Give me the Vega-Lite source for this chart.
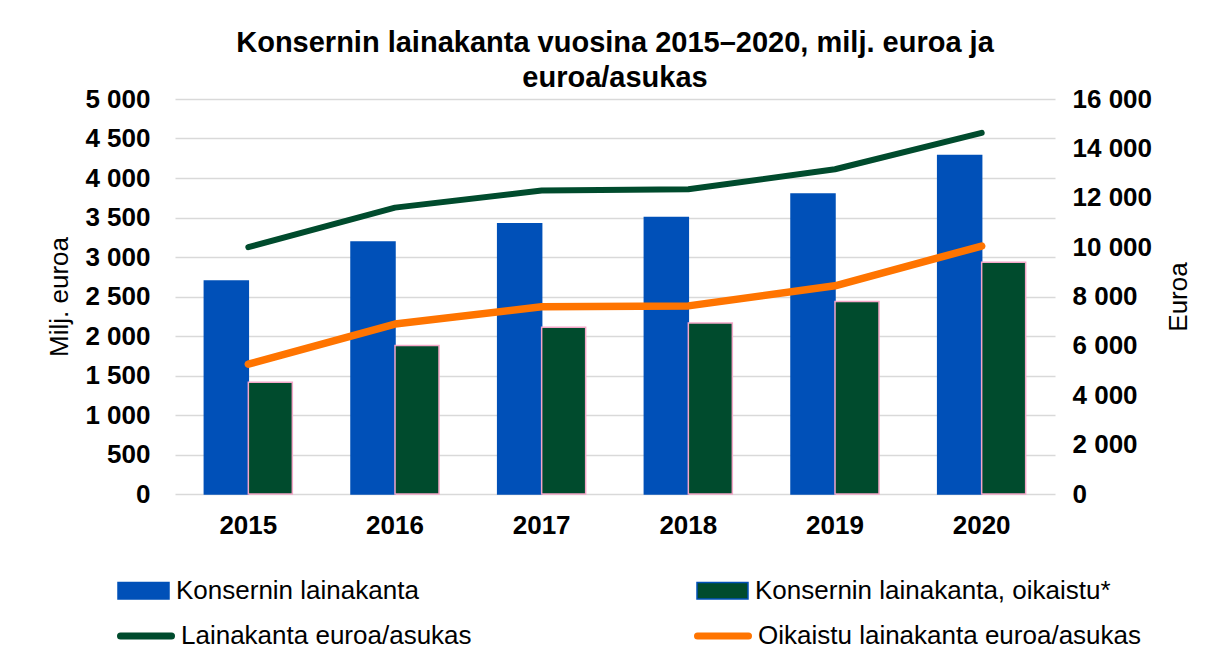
{
  "$schema": "https://vega.github.io/schema/vega-lite/v6.json",
  "width": 880,
  "height": 395,
  "autosize": {"type": "none"},
  "padding": {"left": 175, "top": 99, "right": 154, "bottom": 156},
  "background": "white",
  "config": {"font": "Liberation Sans", "view": {"stroke": null}},
  "title": {
    "text": ["Konsernin lainakanta vuosina 2015–2020, milj. euroa ja", "euroa/asukas"],
    "fontSize": 29, "fontWeight": "bold", "font": "Liberation Sans", "color": "#000000",
    "lineHeight": 35, "offset": -7, "anchor": "middle"
  },
  "datasets": {
    "bars": [
      {"year": "2015", "series": "Konsernin lainakanta", "value": 2695},
      {"year": "2015", "series": "Konsernin lainakanta, oikaistu*", "value": 1415},
      {"year": "2016", "series": "Konsernin lainakanta", "value": 3190},
      {"year": "2016", "series": "Konsernin lainakanta, oikaistu*", "value": 1880},
      {"year": "2017", "series": "Konsernin lainakanta", "value": 3420},
      {"year": "2017", "series": "Konsernin lainakanta, oikaistu*", "value": 2110},
      {"year": "2018", "series": "Konsernin lainakanta", "value": 3500},
      {"year": "2018", "series": "Konsernin lainakanta, oikaistu*", "value": 2165},
      {"year": "2019", "series": "Konsernin lainakanta", "value": 3797},
      {"year": "2019", "series": "Konsernin lainakanta, oikaistu*", "value": 2438},
      {"year": "2020", "series": "Konsernin lainakanta", "value": 4285},
      {"year": "2020", "series": "Konsernin lainakanta, oikaistu*", "value": 2935}
    ],
    "lines": [
      {"year": "2015", "series": "Lainakanta euroa/asukas", "value": 10000},
      {"year": "2016", "series": "Lainakanta euroa/asukas", "value": 11600},
      {"year": "2017", "series": "Lainakanta euroa/asukas", "value": 12290},
      {"year": "2018", "series": "Lainakanta euroa/asukas", "value": 12345},
      {"year": "2019", "series": "Lainakanta euroa/asukas", "value": 13155},
      {"year": "2020", "series": "Lainakanta euroa/asukas", "value": 14630},
      {"year": "2015", "series": "Oikaistu lainakanta euroa/asukas", "value": 5260},
      {"year": "2016", "series": "Oikaistu lainakanta euroa/asukas", "value": 6885},
      {"year": "2017", "series": "Oikaistu lainakanta euroa/asukas", "value": 7585},
      {"year": "2018", "series": "Oikaistu lainakanta euroa/asukas", "value": 7620},
      {"year": "2019", "series": "Oikaistu lainakanta euroa/asukas", "value": 8435},
      {"year": "2020", "series": "Oikaistu lainakanta euroa/asukas", "value": 10045}
    ]
  },
  "layer": [
    {
      "data": {"name": "bars"},
      "mark": {"type": "bar", "strokeWidth": 1.5},
      "encoding": {
        "x": {
          "field": "year", "type": "nominal",
          "scale": {"paddingInner": 0.4, "paddingOuter": 0.2},
          "axis": {
            "title": null, "labelAngle": 0, "labelFontSize": 26, "labelFontWeight": "bold",
            "labelColor": "#000000", "ticks": false, "domain": false, "labelPadding": 18
          }
        },
        "xOffset": {
          "field": "series", "type": "nominal",
          "scale": {"domain": ["Konsernin lainakanta", "Konsernin lainakanta, oikaistu*"], "paddingInner": 0, "paddingOuter": 0}
        },
        "y": {
          "field": "value", "type": "quantitative",
          "scale": {"domain": [0, 5000]},
          "axis": {
            "values": [0, 500, 1000, 1500, 2000, 2500, 3000, 3500, 4000, 4500, 5000],
            "labelExpr": "replace(format(datum.value, ','), ',', ' ')",
            "labelFontSize": 26, "labelFontWeight": "bold", "labelColor": "#000000",
            "ticks": false, "domain": false, "labelPadding": 25,
            "gridColor": "#D9D9D9", "gridWidth": 1.5,
            "title": "Milj. euroa", "titleFontSize": 26, "titleFontWeight": "normal",
            "titleColor": "#000000", "titlePadding": 12
          }
        },
        "fill": {
          "field": "series", "type": "nominal",
          "scale": {"domain": ["Konsernin lainakanta", "Konsernin lainakanta, oikaistu*"], "range": ["#0050B8", "#004B2D"]},
          "legend": {
            "title": null, "orient": "none", "legendX": -58, "legendY": 465,
            "direction": "horizontal", "columns": 2, "columnPadding": 275,
            "labelFontSize": 26, "labelColor": "#000000", "labelLimit": 700, "labelOffset": 6,
            "symbolType": "M-1,-0.32H1V0.32H-1Z", "symbolSize": 2601,
            "encode": {"symbols": {"update": {
              "stroke": {"signal": "datum.value === 'Konsernin lainakanta, oikaistu*' ? '#F4A6C8' : '#0050B8'"},
              "strokeWidth": {"value": 1.5},
              "strokeOpacity": {"value": 1}
            }}}
          }
        },
        "stroke": {
          "condition": {"test": "datum.series === 'Konsernin lainakanta, oikaistu*'", "value": "#F4A6C8"},
          "value": "#0050B8"
        }
      }
    },
    {
      "data": {"name": "lines"},
      "mark": {"type": "line", "strokeCap": "round", "strokeJoin": "round"},
      "encoding": {
        "x": {"field": "year", "type": "nominal"},
        "y": {
          "field": "value", "type": "quantitative",
          "scale": {"domain": [0, 16000]},
          "axis": {
            "orient": "right",
            "values": [0, 2000, 4000, 6000, 8000, 10000, 12000, 14000, 16000],
            "labelExpr": "replace(format(datum.value, ','), ',', ' ')",
            "labelFontSize": 26, "labelFontWeight": "bold", "labelColor": "#000000",
            "ticks": false, "domain": false, "grid": false, "labelPadding": 17,
            "title": "Euroa", "titleFontSize": 26, "titleFontWeight": "normal",
            "titleColor": "#000000", "titleAngle": 270, "titlePadding": 40
          }
        },
        "stroke": {
          "field": "series", "type": "nominal",
          "scale": {"domain": ["Lainakanta euroa/asukas", "Oikaistu lainakanta euroa/asukas"], "range": ["#004B2D", "#FF7400"]},
          "legend": {
            "title": null, "orient": "none", "legendX": -58, "legendY": 508,
            "direction": "horizontal", "columns": 2, "columnPadding": 211,
            "labelFontSize": 26, "labelColor": "#000000", "labelLimit": 700, "labelOffset": 6,
            "symbolType": "stroke", "symbolSize": 2601, "symbolStrokeWidth": 7,
            "encode": {"symbols": {"update": {"strokeCap": {"value": "round"}}}}
          }
        },
        "strokeWidth": {
          "condition": {"test": "datum.series === 'Oikaistu lainakanta euroa/asukas'", "value": 7.5},
          "value": 6
        }
      }
    }
  ],
  "resolve": {"scale": {"y": "independent"}}
}
